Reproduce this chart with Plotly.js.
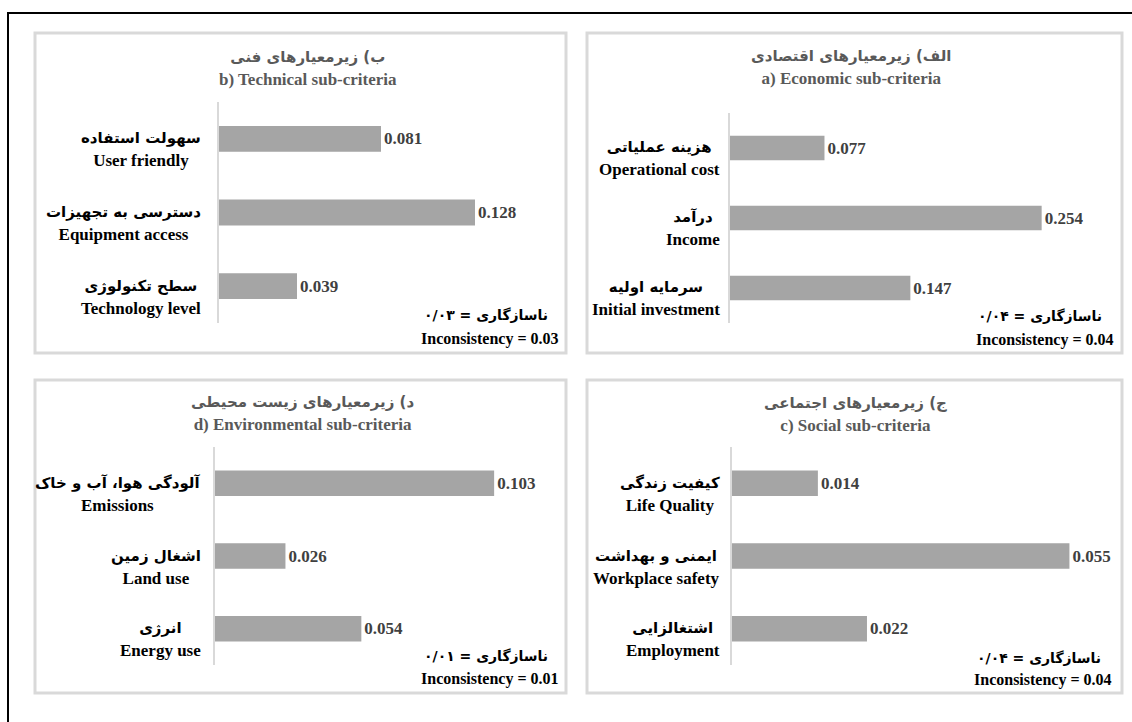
<!DOCTYPE html>
<html>
<head>
<meta charset="utf-8">
<script src="https://cdn.plot.ly/plotly-3.0.1.min.js"></script>
<style>html,body{margin:0;padding:0;background:#fff;}#chart{width:1132px;height:722px;}</style>
</head>
<body>
<div id="chart"></div>
<script>
// ---- data ----
const catsA = ['Operational cost', 'Income', 'Initial investment'];
const faA = ['هزینه عملیاتی', 'درآمد', 'سرمایه اولیه'];
const valsA = [0.077, 0.254, 0.147];

const catsB = ['User friendly', 'Equipment access', 'Technology level'];
const faB = ['سهولت استفاده', 'دسترسی به تجهیزات', 'سطح تکنولوژی'];
const valsB = [0.081, 0.128, 0.039];

const catsC = ['Life Quality', 'Workplace safety', 'Employment'];
const faC = ['کیفیت زندگی', 'ایمنی و بهداشت', 'اشتغالزایی'];
const valsC = [0.014, 0.055, 0.022];

const catsD = ['Emissions', 'Land use', 'Energy use'];
const faD = ['آلودگی هوا، آب و خاک', 'اشغال زمین', 'انرژی'];
const valsD = [0.103, 0.026, 0.054];

const titlesFa = ['الف) زیرمعیارهای اقتصادی', 'ب) زیرمعیارهای فنی', 'ج) زیرمعیارهای اجتماعی', 'د) زیرمعیارهای زیست محیطی'];
const titlesEn = ['a) Economic sub-criteria', 'b) Technical sub-criteria', 'c) Social sub-criteria', 'd) Environmental sub-criteria'];
const inconsFa = ['۰/۰۴', '۰/۰۳', '۰/۰۴', '۰/۰۱'];
const inconsEn = ['0.04', '0.03', '0.04', '0.01'];

// ---- layout helpers ----
const W = 1132, H = 722;
const px = v => v / W;
const py = v => 1 - v / H;
const SERIF = 'Liberation Serif, Times New Roman, serif';
const FA = 'DejaVu Sans';

// panel geometry (pixels)
const panels = [
  // A: top-right
  {cats: catsA, fa: faA, vals: valsA, ax: '2', x0: 730, x1: 1100, scale: 1227, yTop: 113, yBot: 323,
   box: [587, 33, 1122, 353], labelRight: 722, titleX: 851, titleY: 68, incRight: 1104, incY: 316, incEnRight: 1116, incEnY: 340},
  // B: top-left
  {cats: catsB, fa: faB, vals: valsB, ax: '', x0: 219, x1: 545, scale: 2000, yTop: 102, yBot: 323,
   box: [35, 33, 566, 353], labelRight: 203, titleX: 308, titleY: 69, incRight: 550, incY: 315, incEnRight: 561, incEnY: 339},
  // C: bottom-right
  {cats: catsC, fa: faC, vals: valsC, ax: '4', x0: 732, x1: 1100, scale: 6135, yTop: 447, yBot: 665,
   box: [587, 380, 1122, 693], labelRight: 722, titleX: 855, titleY: 414, incRight: 1103, incY: 658, incEnRight: 1114, incEnY: 680},
  // D: bottom-left
  {cats: catsD, fa: faD, vals: valsD, ax: '3', x0: 215, x1: 545, scale: 2710, yTop: 447, yBot: 665,
   box: [35, 380, 566, 693], labelRight: 203, titleX: 302, titleY: 413, incRight: 550, incY: 656, incEnRight: 561, incEnY: 679}
];

const traces = [];
const layout = {
  width: W, height: H, autosize: false,
  margin: {l: 0, r: 0, t: 0, b: 0, pad: 0},
  paper_bgcolor: '#ffffff', plot_bgcolor: 'rgba(0,0,0,0)',
  showlegend: false,
  bargap: 0.65,
  font: {family: SERIF, color: '#000'},
  shapes: [], annotations: []
};

// outer black frame (only top and left visible)
layout.shapes.push({type: 'rect', xref: 'paper', yref: 'paper', x0: px(8), x1: 1.02, y0: -0.02, y1: py(13),
  line: {color: '#000', width: 2}, fillcolor: 'rgba(0,0,0,0)', layer: 'below'});

panels.forEach((p, i) => {
  const xa = 'x' + p.ax, ya = 'y' + p.ax;
  traces.push({
    type: 'bar', orientation: 'h',
    x: p.vals, y: p.cats,
    xaxis: xa, yaxis: ya,
    marker: {color: '#a5a5a5', line: {width: 0}},
    text: p.vals.map(v => v.toFixed(3)),
    textposition: 'outside', constraintext: 'none', cliponaxis: false,
    textfont: {family: SERIF, size: 17, color: '#404040', weight: 'bold'},
    hoverinfo: 'none'
  });
  const xk = 'xaxis' + p.ax, yk = 'yaxis' + p.ax;
  layout[xk] = {domain: [px(p.x0), px(p.x1)], range: [0, (p.x1 - p.x0) / p.scale], anchor: ya,
    showgrid: false, zeroline: false, showline: false, showticklabels: false, ticks: '', fixedrange: true};
  layout[yk] = {domain: [py(p.yBot), py(p.yTop)], type: 'category', autorange: 'reversed', anchor: xa,
    showgrid: false, zeroline: false, showline: true, linecolor: '#d9d9d9', linewidth: 2,
    showticklabels: false, ticks: '', fixedrange: true};

  // panel border
  layout.shapes.push({type: 'rect', xref: 'paper', yref: 'paper',
    x0: px(p.box[0]), x1: px(p.box[2]), y0: py(p.box[3]), y1: py(p.box[1]),
    line: {color: '#d9d9d9', width: 3}, fillcolor: 'rgba(0,0,0,0)', layer: 'below'});

  // category labels
  p.cats.forEach((c, j) => {
    layout.annotations.push({
      xref: 'paper', yref: ya, x: px(p.labelRight), y: c, xanchor: 'right', yanchor: 'middle',
      yshift: -11, align: 'center', showarrow: false,
      font: {family: SERIF, size: 18, color: '#000'},
      text: '<span style="font-family:' + FA + ';font-size:15px;font-weight:bold">' + p.fa[j] + '</span><br>' +
            '<span style="font-size:17px"><b>' + c + '</b></span>'
    });
  });

  // title
  layout.annotations.push({
    xref: 'paper', yref: 'paper', x: px(p.titleX), y: py(p.titleY), xanchor: 'center', yanchor: 'middle',
    align: 'center', showarrow: false,
    font: {family: SERIF, size: 18, color: '#595959'},
    text: '<span style="font-family:' + FA + ';font-size:15px;font-weight:bold">' + titlesFa[i] + '</span><br>' +
          '<span style="font-size:17px"><b>' + titlesEn[i] + '</b></span>'
  });

  // inconsistency
  layout.annotations.push({
    xref: 'paper', yref: 'paper', x: px(p.incRight), y: py(p.incY), xanchor: 'right', yanchor: 'middle',
    showarrow: false, font: {family: FA, size: 14, color: '#000', weight: 'bold'},
    text: '<b>ناسازگاری = ' + inconsFa[i] + '</b>'
  });
  layout.annotations.push({
    xref: 'paper', yref: 'paper', x: px(p.incEnRight), y: py(p.incEnY), xanchor: 'right', yanchor: 'middle',
    showarrow: false, font: {family: SERIF, size: 16, color: '#000'},
    text: '<b>Inconsistency = ' + inconsEn[i] + '</b>'
  });
});

Plotly.newPlot('chart', traces, layout, {displayModeBar: false, staticPlot: true});
</script>
</body>
</html>
